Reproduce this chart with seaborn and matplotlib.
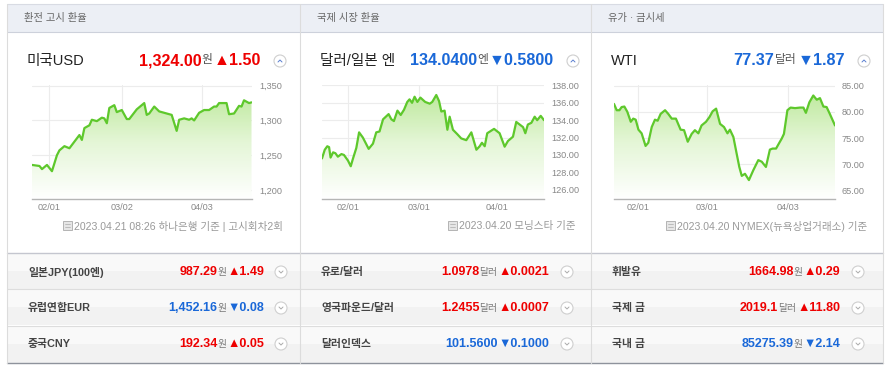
import numpy as np
import matplotlib
matplotlib.use("Agg")
import matplotlib.pyplot as plt
import seaborn as sns
from matplotlib.colors import LinearSegmentedColormap
from matplotlib.patches import Rectangle, Circle

section_titles = ["환전 고시 환율", "국제 시장 환율", "유가 · 금시세"]
main_names = ["미국USD", "달러/일본 엔", "WTI"]
main_values = ["1,324.00", "134.0400", "77.37"]
main_units = ["원", "엔", "달러"]
main_changes = ["1.50", "0.5800", "1.87"]
main_up = [True, False, False]
footnotes = ["2023.04.21 08:26 하나은행 기준 | 고시회차2회",
             "2023.04.20 모닝스타 기준",
             "2023.04.20 NYMEX(뉴욕상업거래소) 기준"]

# days relative to 02/01
usd_days = [-7, -5, -4, -3, -1, 1, 3, 4, 6, 8, 12, 13, 14, 16, 17, 19, 21, 22, 23, 24,
            26, 27, 29, 31, 32, 35, 38, 39, 40, 42, 44, 47, 49, 51, 52, 54, 56, 57, 58, 60,
            62, 64, 66, 67, 68, 71, 72, 74, 76, 77, 78, 80, 81]
usd_vals = [1236, 1235, 1234.5, 1230, 1236, 1227, 1250, 1257, 1263, 1260, 1279, 1272, 1289, 1293,
            1301, 1299, 1304, 1303, 1296, 1318, 1322, 1312, 1315, 1302, 1302, 1316, 1325, 1308,
            1310, 1320, 1313, 1310, 1308, 1285, 1301, 1303, 1301, 1303, 1300, 1311, 1315, 1315,
            1320, 1320, 1325, 1325, 1309, 1310, 1321, 1320, 1329, 1325, 1326]

jpy_days = [-10.3, -9.2, -8.2, -7.5, -6.9, -5.9, -5.0, -4.0, -2.6, -1.6, 0, 1.1, 2, 3.3, 4.4,
            5.9, 8.2, 9.9, 11.2, 12.5, 13.9, 16.1, 17.2, 18.2, 19.6, 20.9, 22.2, 23.5, 24.4,
            25.4, 26.4, 27.5, 28.7, 30.6, 32.4, 33.4, 35, 36.1, 37, 38.3, 39.4, 40.3, 41.6,
            43.3, 44.9, 46.9, 48.9, 50.9, 52.2, 53.1, 54.2, 55.2, 57.9, 60.1, 62.1, 63.4,
            65.4, 66.7, 69.4, 70.3, 71.3, 72.7, 74, 75, 76.4, 77.7]
jpy_vals = [129.6, 130.6, 131.0, 130.9, 129.7, 130.3, 130.2, 129.8, 130.1, 130.0, 129.35, 128.7,
            129.6, 130.8, 132.6, 132.0, 130.7, 131.3, 132.6, 132.7, 134.1, 134.7, 134.1, 133.9,
            135.1, 134.6, 135.2, 136.1, 136.4, 136.0, 136.7, 136.1, 136.6, 136.1, 135.9, 136.1,
            136.9, 136.2, 135.0, 135.1, 132.9, 134.4, 132.9, 132.4, 131.9, 131.7, 132.6, 130.6,
            131.0, 131.4, 131.0, 132.5, 133.0, 132.5, 130.95, 131.6, 132.1, 133.8, 133.2, 132.5,
            133.5, 133.7, 134.4, 134.0, 134.5, 134.0]

wti_days = [-9.6, -8.5, -7.4, -6.5, -5.4, -4.2, -2.8, -1.8, -0.8, 0.3, 1.6, 3.2, 4.3, 5.7, 7.0,
            8.1, 9.3, 11.1, 12.4, 13.8, 15.5, 17.4, 18.8, 20.3, 21.9, 23.2, 24.6, 25.9, 27.7,
            29.1, 30.4, 31.8, 33.4, 35.0, 36.4, 37.4, 38.8, 40.1, 41.2, 42.2, 43.5, 45.1, 46.9,
            48.9, 50.3, 52.0, 53.6, 54.7, 56.1, 57.3, 58.4, 59.3, 60.7, 62.0, 63.8, 65.8, 67.2,
            68.2, 69.6, 71.2, 72.6, 73.9, 75.3, 76.6, 77.9, 80.0]
wti_vals = [81.5, 80.3, 80.3, 80.9, 81.0, 80.0, 78.1, 78.7, 78.5, 76.6, 75.9, 73.5, 74.1, 77.1,
            78.5, 78.3, 79.6, 80.3, 79.6, 78.7, 78.7, 76.6, 76.5, 74.3, 75.8, 76.5, 75.9, 77.4,
            78.1, 79.0, 80.1, 80.6, 77.7, 77.1, 75.9, 76.6, 75.2, 72.1, 69.5, 67.8, 68.2, 67.0,
            68.9, 70.8, 70.5, 69.5, 72.8, 73.0, 73.0, 74.0, 74.9, 75.8, 80.3, 80.8, 80.7, 80.8,
            80.8, 79.8, 81.8, 83.1, 82.3, 82.6, 81.0, 80.9, 79.6, 77.4]

x_ticks = [[0, 29, 61], [0, 28, 59], [0, 28, 61]]
x_labels = [["02/01", "03/02", "04/03"], ["02/01", "03/01", "04/01"], ["02/01", "03/01", "04/03"]]
y_ticks = [[1200, 1250, 1300, 1350], [126, 128, 130, 132, 134, 136, 138], [65, 70, 75, 80, 85]]

row_names = [["일본JPY(100엔)", "유럽연합EUR", "중국CNY"],
             ["유로/달러", "영국파운드/달러", "달러인덱스"],
             ["휘발유", "국제 금", "국내 금"]]
row_values = [["987.29", "1,452.16", "192.34"],
              ["1.0978", "1.2455", "101.5600"],
              ["1664.98", "2019.1", "85275.39"]]
row_units = [["원", "원", "원"], ["달러", "달러", ""], ["원", "달러", "원"]]
row_changes = [["1.49", "0.08", "0.05"], ["0.0021", "0.0007", "0.1000"], ["0.29", "11.80", "2.14"]]
row_up = [[True, False, True], [True, True, False], [True, True, False]]

series = [(usd_days, usd_vals), (jpy_days, jpy_vals), (wti_days, wti_vals)]

RED = "#ee0000"
BLUE = "#1a68d8"
LINE = "#5ec82c"
W, H = 890, 376

sns.set_theme(style="white")
plt.rcParams["font.family"] = ["Liberation Sans", "Noto Sans CJK KR", "DejaVu Sans"]

fig = plt.figure(figsize=(W / 100, H / 100), dpi=100)
bg = fig.add_axes([0, 0, 1, 1])
bg.set_xlim(0, W)
bg.set_ylim(H, 0)
bg.axis("off")
r = fig.canvas.get_renderer()

col_left = [7, 300, 591]

# frame, header band and table rows
bg.add_patch(Rectangle((7, 4), 876, 28, facecolor="#eceff5", edgecolor="none"))
bg.plot([7, 883], [4, 4], color="#d8dbe3", lw=0.8)
bg.plot([7, 883], [32, 32], color="#cdd1db", lw=0.8)
for k, yy in enumerate([253, 289, 326]):
    bg.add_patch(Rectangle((7, yy), 876, 18, facecolor="#f9f9f9", edgecolor="none"))
    bg.add_patch(Rectangle((7, yy + 18), 876, (36 if k < 2 else 37) - 18,
                           facecolor="#f2f2f2", edgecolor="none"))
bg.plot([7, 883], [253, 253], color="#c4c6cf", lw=1.0)
for yy in [289, 326]:
    bg.plot([7, 883], [yy, yy], color="#dddddd", lw=0.8)
bg.plot([7, 883], [363, 363], color="#8e939c", lw=1.0)
for xx in [7, 300, 591, 883]:
    bg.plot([xx, xx], [4, 363], color="#dcdcdc", lw=0.8)


def put_right(x, y, pieces):
    # pieces: (text, size, color, weight, gap_after) drawn right to left
    for text, size, color, weight, gap in reversed(pieces):
        x -= gap
        t = bg.text(x, y, text, ha="right", va="center", fontsize=size, color=color,
                    fontweight=weight)
        x -= t.get_window_extent(r).width


def button(x, y, up):
    bg.add_patch(Circle((x, y), 6, facecolor="white", edgecolor="#cfcfcf", lw=0.8))
    d = -1 if up else 1
    bg.plot([x - 2, x, x + 2], [y - d * 1, y + d * 1, y - d * 1],
            color="#5b7fd0" if up else "#aaaaaa", lw=0.7)


for i in range(3):
    cl = col_left[i]
    bg.text(cl + 17, 18, section_titles[i], ha="left", va="center", fontsize=7.4, color="#666666")
    bg.text(cl + 20, 61, main_names[i], ha="left", va="center", fontsize=10.5, color="#222222")
    c = RED if main_up[i] else BLUE
    arrow = "▲" if main_up[i] else "▼"
    put_right(cl + 259, 60.5, [(main_values[i], 11.6, c, "bold", 0),
                               (main_units[i], 8.5, "#555555", "normal", 1),
                               (arrow + main_changes[i], 11.6, c, "bold", 5)])
    button(cl + 273, 61, True)
    # footnote with small icon
    t = bg.text(cl + 276, 226, footnotes[i], ha="right", va="center",
                fontsize=7.6, color="#999999")
    wdt = t.get_window_extent(r).width
    ix = cl + 276 - wdt - 11
    bg.add_patch(Rectangle((ix, 221), 9, 9, facecolor="#e6e6e6", edgecolor="#aaaaaa", lw=0.6))
    bg.plot([ix + 2, ix + 7], [224, 224], color="#aaaaaa", lw=0.5)
    bg.plot([ix + 2, ix + 7], [227, 227], color="#aaaaaa", lw=0.5)

    for j, yy in enumerate([272, 308, 344]):
        bg.text(cl + 21, yy, row_names[i][j], ha="left", va="center", fontsize=7.8,
                color="#444444", fontweight="bold")
        c = RED if row_up[i][j] else BLUE
        arrow = "▲" if row_up[i][j] else "▼"
        unit = row_units[i][j]
        put_right(cl + 262 - (i > 0) * 8, yy, [(row_values[i][j], 9, c, "bold", 0),
                                               (unit, 7, "#777777", "normal", 1 if unit else 0),
                                               (arrow + row_changes[i][j], 9, c, "bold", 5)])
        button(cl + 274 - (i > 0) * 7, yy, False)

# ---- charts ----
chart_px = [(32, 252), (322, 544), (614, 835)]
xlims = [(-7, 81.2), (-10.3, 77.7), (-9.6, 80.0)]
ylims = [(1187, 1351), (124.93, 138.05), (63.4, 85.1)]
fmts = [lambda v: f"{v:,.0f}", lambda v: f"{v:.2f}", lambda v: f"{v:.2f}"]
cmap = LinearSegmentedColormap.from_list("g", ["#ffffff", "#e4f6d6", "#b8e794"])

for i in range(3):
    x0, x1 = chart_px[i]
    ax = fig.add_axes([x0 / W, (H - 199) / H, (x1 - x0) / W, 114 / H])
    ax.set_facecolor("white")
    xs, ys = series[i]
    lo, hi = ylims[i]
    poly = ax.fill_between(xs, ys, lo, color="none", lw=0)
    grad = np.linspace(0, 1, 256).reshape(-1, 1)
    im = ax.imshow(grad, aspect="auto", cmap=cmap, origin="lower",
                   extent=[xlims[i][0], xlims[i][1], lo, hi], zorder=1)
    im.set_clip_path(poly.get_paths()[0], transform=ax.transData)
    sns.lineplot(x=xs, y=ys, ax=ax, color=LINE, linewidth=1.6, zorder=3)
    ax.set_xlim(*xlims[i])
    ax.set_ylim(lo, hi)
    ax.set_xticks(x_ticks[i])
    ax.set_xticklabels(x_labels[i])
    ax.set_yticks(y_ticks[i])
    ax.set_yticklabels([fmts[i](v) for v in y_ticks[i]])
    ax.yaxis.tick_right()
    ax.tick_params(axis="both", length=0, labelsize=6.6, labelcolor="#888888")
    ax.tick_params(axis="y", pad=5)
    ax.tick_params(axis="x", pad=3)
    ax.grid(True, color="#ececec", lw=0.8, zorder=0)
    ax.set_axisbelow(True)
    for s in ["top", "left", "right"]:
        ax.spines[s].set_visible(False)
    ax.spines["bottom"].set_color("#b5b5b5")
    ax.spines["bottom"].set_linewidth(1.0)
    ax.set_xlabel("")
    ax.set_ylabel("")

fig.savefig("out.png", dpi=100)
